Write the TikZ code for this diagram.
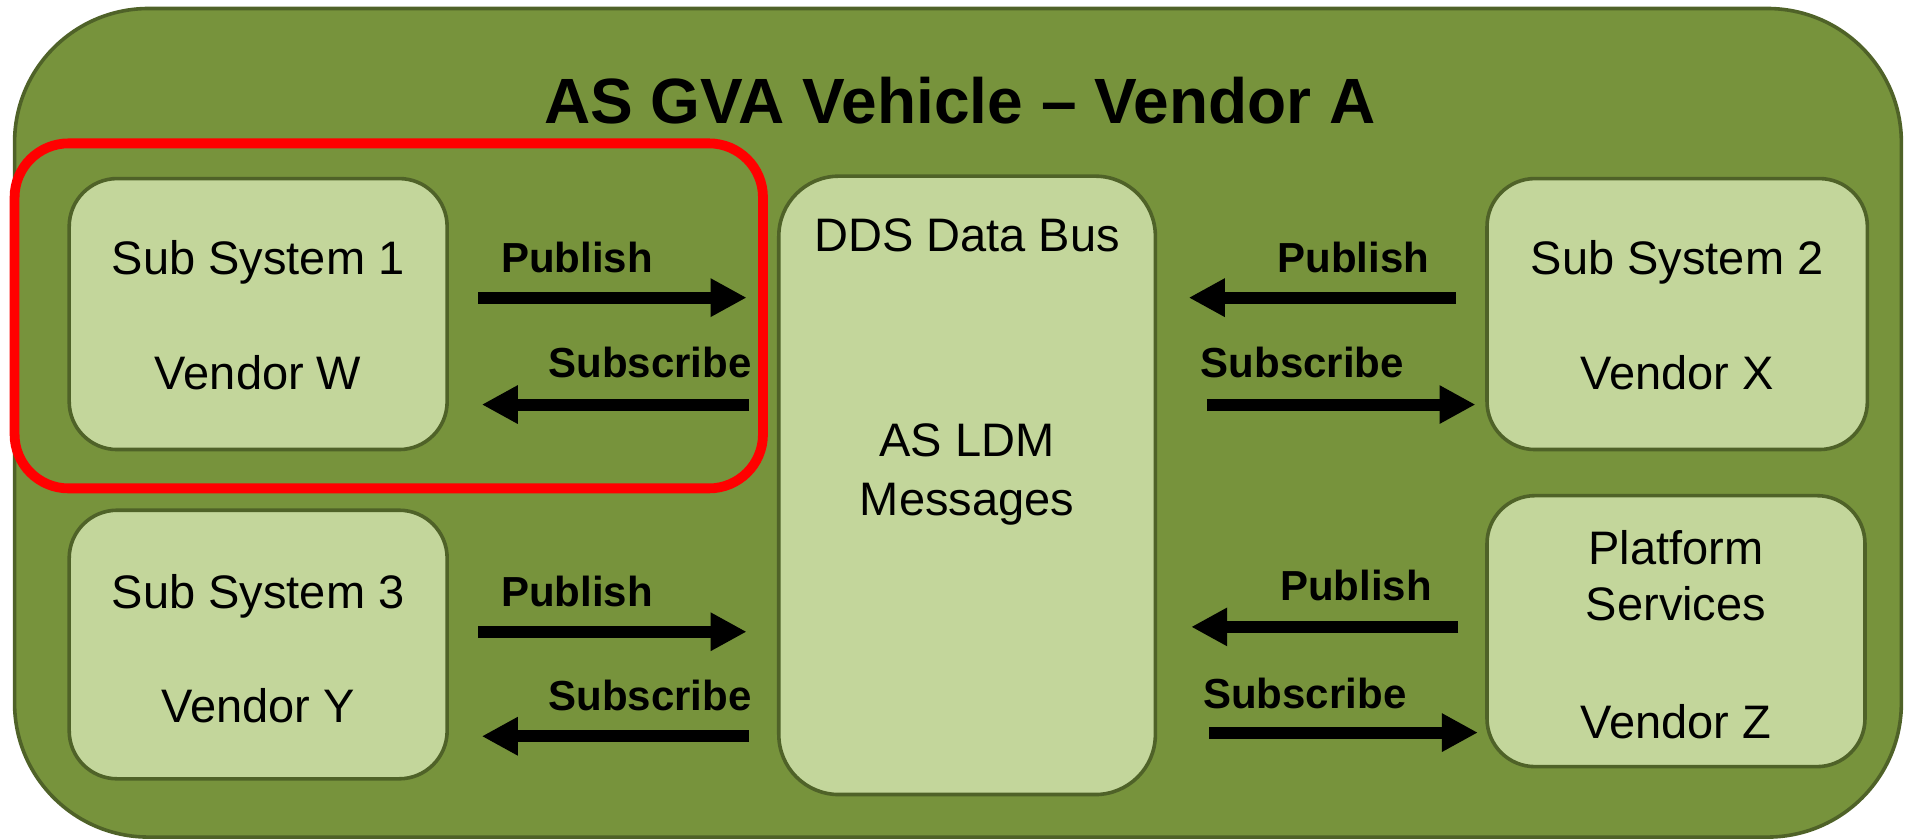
\documentclass[tikz,border=0pt]{standalone}
\usepackage{fontspec}
\setmainfont{Liberation Sans}
\usetikzlibrary{arrows.meta,calc}
\definecolor{olive}{HTML}{77933C}
\definecolor{olivedark}{HTML}{4F6228}
\definecolor{lightolive}{HTML}{C3D69B}
\definecolor{redline}{HTML}{FF0000}
\begin{document}
\begin{tikzpicture}[x=0.6075pt,y=-0.6075pt,
  outerbox/.style={draw=olivedark,fill=olive,line width=1.8pt,rounded corners=67pt},
  focusbox/.style={draw=redline,line width=4.9pt,rounded corners=27pt},
  sysbox/.style={draw=olivedark,fill=lightolive,line width=1.8pt,rounded corners=24pt,inner sep=0pt},
  txt/.style={anchor=base,inner sep=0pt,font=\fontsize{23.5}{28}\selectfont},
  title/.style={anchor=base,inner sep=0pt,font=\fontsize{32}{38}\selectfont\bfseries},
  lbl/.style={anchor=base,inner sep=0pt,font=\fontsize{21}{25}\selectfont\bfseries},
  arr/.style={line width=6pt,-{Triangle[length=18pt,width=18pt]}}]
\useasboundingbox (0,0) rectangle (1568,691);
\draw[outerbox] (12,7) rectangle (1565,689);
\node[title] (ttl) at (790,102) {AS GVA Vehicle – Vendor A};
\draw[focusbox] (12,118) rectangle (628,402);
% boxes
\node[sysbox,minimum width=189pt,minimum height=135.5pt] (ss1) at (212.5,258.5) {};
\node[sysbox,minimum width=189pt,minimum height=134.3pt] (ss3) at (212.5,530.5) {};
\node[sysbox,minimum width=188.3pt,minimum height=309.2pt,rounded corners=30pt] (dds) at (796,399.5) {};
\node[sysbox,minimum width=190.2pt,minimum height=135.5pt] (ss2) at (1380.5,258.5) {};
\node[sysbox,minimum width=189pt,minimum height=135.5pt] (ps) at (1379.5,519.5) {};
% texts
\node[txt] (t1a) at (212.5,226) {Sub System 1};
\node[txt] (t1b) at (212.5,321) {Vendor W};
\node[txt] (t3a) at (212.5,501) {Sub System 3};
\node[txt] (t3b) at (212.5,595) {Vendor Y};
\node[txt] (tda) at (796,207) {DDS Data Bus};
\node[txt] (tdb) at (796,376) {AS LDM};
\node[txt] (tdc) at (796,424) {Messages};
\node[txt] (t2a) at (1380.5,226) {Sub System 2};
\node[txt] (t2b) at (1380.5,321) {Vendor X};
\node[txt] (tpa) at (1379.5,465) {Platform};
\node[txt] (tpb) at (1379.5,511) {Services};
\node[txt] (tpc) at (1379.5,608) {Vendor Z};
% labels
\node[lbl] (lp1) at (475,224) {Publish};
\node[lbl] (ls1) at (535,311) {Subscribe};
\node[lbl] (lp3) at (475,499) {Publish};
\node[lbl] (ls3) at (535,585) {Subscribe};
\node[lbl] (lp2) at (1114,224) {Publish};
\node[lbl] (ls2) at (1072,311) {Subscribe};
\node[lbl] (lpz) at (1116,494) {Publish};
\node[lbl] (lsz) at (1074,583) {Subscribe};
% arrows
\draw[arr] ($(ss1.east |- 0,245)+(24,0)$) -- ($(dds.west |- 0,245)+(-25,0)$);
\draw[arr] ($(dds.west |- 0,333)+(-23,0)$) -- ($(ss1.east |- 0,333)+(27,0)$);
\draw[arr] ($(ss3.east |- 0,520)+(24,0)$) -- ($(dds.west |- 0,520)+(-25,0)$);
\draw[arr] ($(dds.west |- 0,606)+(-23,0)$) -- ($(ss3.east |- 0,606)+(27,0)$);
\draw[arr] ($(ss2.west |- 0,245)+(-24,0)$) -- ($(dds.east |- 0,245)+(26,0)$);
\draw[arr] ($(dds.east |- 0,333)+(41,0)$) -- ($(ss2.west |- 0,333)+(-8,0)$);
\draw[arr] ($(ps.west |- 0,516)+(-22,0)$) -- ($(dds.east |- 0,516)+(28,0)$);
\draw[arr] ($(dds.east |- 0,603)+(43,0)$) -- ($(ps.west |- 0,603)+(-6,0)$);
\end{tikzpicture}
\end{document}
